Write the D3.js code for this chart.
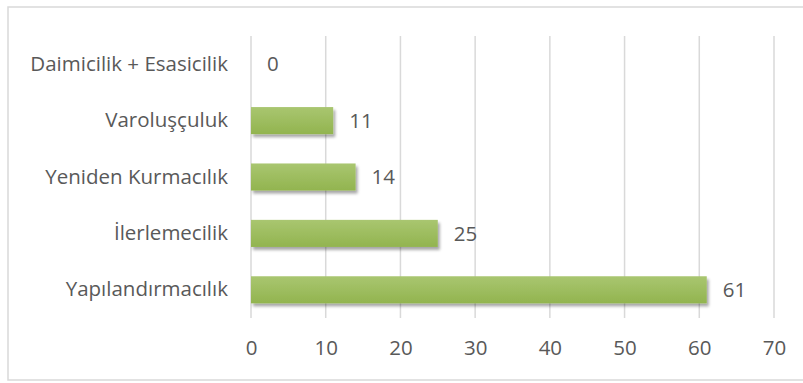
<!DOCTYPE html>
<html>
<head>
<meta charset="utf-8">
<script src="https://cdn.jsdelivr.net/npm/d3@7"></script>
<style>
    body { margin: 0; background: #fff; }
    svg text { font-family: "Open Sans", sans-serif; fill: #595959; }
</style>
</head>
<body>
<div id="chart"></div>
<script>
// data, top to bottom
const categories = ["Daimicilik + Esasicilik", "Varoluşçuluk", "Yeniden Kurmacılık", "İlerlemecilik", "Yapılandırmacılık"];
const values = [0, 11, 14, 25, 61];
const tickValues = [0, 10, 20, 30, 40, 50, 60, 70];

const W = 803, H = 383;
const margin = { top: 36, right: 29, bottom: 65, left: 251 };
const fontSize = "20.5px";

const svg = d3.select("#chart").append("svg")
    .attr("width", W)
    .attr("height", H);

// outer frame
svg.append("rect")
    .attr("x", 8).attr("y", 7)
    .attr("width", 800).attr("height", 373)
    .attr("fill", "#fff")
    .attr("stroke", "#d9d9d9")
    .attr("stroke-width", 1.5);

const defs = svg.append("defs");
const grad = defs.append("linearGradient")
    .attr("id", "barGrad")
    .attr("x1", 0).attr("y1", 0).attr("x2", 0).attr("y2", 1);
grad.append("stop").attr("offset", "0%").attr("stop-color", "#a9c670");
grad.append("stop").attr("offset", "100%").attr("stop-color", "#92b44f");

const shadow = defs.append("filter")
    .attr("id", "shadow")
    .attr("x", "-10%").attr("y", "-30%").attr("width", "130%").attr("height", "180%");
shadow.append("feGaussianBlur").attr("in", "SourceAlpha").attr("stdDeviation", 1.6).attr("result", "blur");
shadow.append("feOffset").attr("in", "blur").attr("dx", 2).attr("dy", 3).attr("result", "off");
shadow.append("feComponentTransfer").attr("in", "off").attr("result", "sh")
    .append("feFuncA").attr("type", "linear").attr("slope", 0.35);
const merge = shadow.append("feMerge");
merge.append("feMergeNode").attr("in", "sh");
merge.append("feMergeNode").attr("in", "SourceGraphic");

const x = d3.scaleLinear()
    .domain([0, 70])
    .range([margin.left, W - margin.right]);

const y = d3.scaleBand()
    .domain(categories)
    .range([margin.top, H - margin.bottom])
    .paddingInner(0.52)
    .paddingOuter(0.26);

const g = svg.append("g");

// vertical gridlines
g.selectAll(".grid")
    .data(tickValues)
    .enter().append("line")
    .attr("class", "grid")
    .attr("x1", d => x(d)).attr("x2", d => x(d))
    .attr("y1", margin.top).attr("y2", H - margin.bottom)
    .attr("stroke", "#d9d9d9")
    .attr("stroke-width", 1.5);

// bars
g.selectAll(".bar")
    .data(values)
    .enter().append("rect")
    .attr("class", "bar")
    .attr("x", x(0))
    .attr("y", (d, i) => y(categories[i]))
    .attr("width", d => x(d) - x(0))
    .attr("height", y.bandwidth())
    .attr("fill", "url(#barGrad)")
    .attr("filter", "url(#shadow)");

// value labels
g.selectAll(".val")
    .data(values)
    .enter().append("text")
    .attr("class", "val")
    .attr("x", d => x(d) + 16)
    .attr("y", (d, i) => y(categories[i]) + y.bandwidth() / 2)
    .attr("dy", "0.35em")
    .style("font-size", fontSize)
    .text(d => d);

// category axis
const yAxis = svg.append("g")
    .attr("transform", "translate(" + margin.left + ",0)")
    .call(d3.axisLeft(y).tickSize(0).tickPadding(23));
yAxis.select(".domain").remove();
yAxis.selectAll("text").style("font-size", fontSize).attr("fill", null);

// value axis
const xAxis = svg.append("g")
    .attr("transform", "translate(0," + (H - margin.bottom) + ")")
    .call(d3.axisBottom(x).tickValues(tickValues).tickSize(0).tickPadding(22));
xAxis.select(".domain").remove();
xAxis.selectAll("text").style("font-size", fontSize).attr("fill", null);
</script>
</body>
</html>
